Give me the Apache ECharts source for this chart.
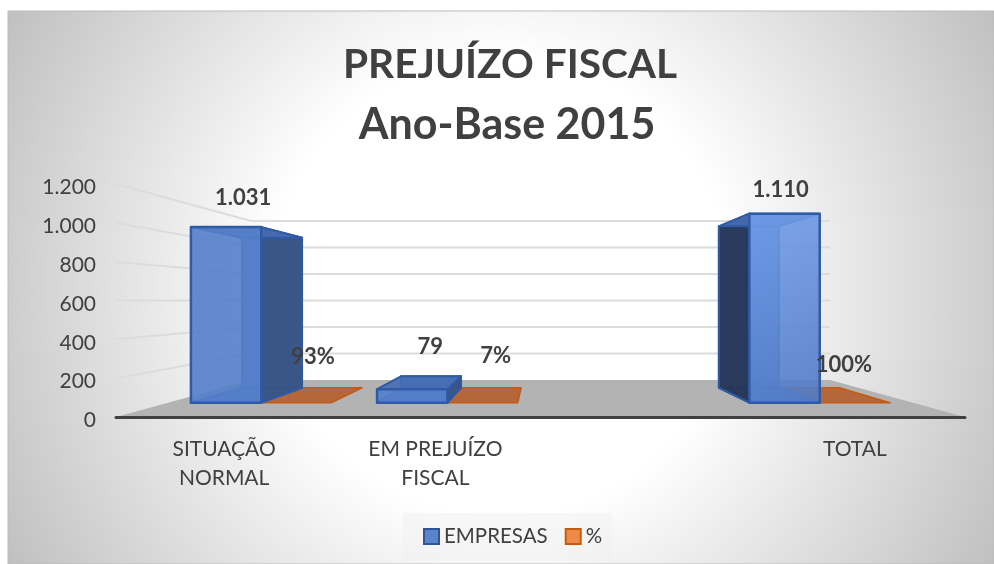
<!DOCTYPE html>
<html>
<head>
<meta charset="utf-8">
<style>html,body{margin:0;padding:0;background:#fff}#c{width:994px;height:564px}</style>
<script src="https://cdn.jsdelivr.net/npm/echarts@6/dist/echarts.min.js"></script>
</head>
<body>
<div id="c"></div>
<script>
const categories = ['SITUAÇÃO\nNORMAL', 'EM PREJUÍZO\nFISCAL', '', 'TOTAL'];
const empresas = [1031, 79, null, 1110];
const percentuais = [0.93, 0.07, null, 1];
const yTicks = [0, 200, 400, 600, 800, 1000, 1200];
const titleLines = ['PREJUÍZO FISCAL', 'Ano-Base 2015'];
const seriesNames = ['EMPRESAS', '%'];

// perspective constants (style only)
const FONT = 'Lato, Carlito, sans-serif';
const S_BACK = 0.682, S_BAR_FRONT = 0.877, S_BAR_BACK = 0.749, BAR_FRAC = 0.378;
const blueNudge = [[17, -29], [18, -42], null, [-4, -24]];
const orangeNudge = [[16.5, -46], [13, -47], null, [-11, -38]];

const fmtInt = v => String(v).replace(/\B(?=(\d{3})+$)/g, '.');
const fmtPct = v => Math.round(v * 100) + '%';

function vanishing(params, api) {
  const g = params.coordSys;
  return [g.x + g.width / 2, api.coord([0, 600])[1]];
}
const proj = (vp, x, y, s) => [vp[0] + (x - vp[0]) * s, vp[1] + (y - vp[1]) * s];

function renderWalls(params, api) {
  const g = params.coordSys, vp = vanishing(params, api);
  const v = api.value(0);
  const y = api.coord([0, v])[1];
  const L = g.x, R = g.x + g.width;
  const bl = proj(vp, L, y, S_BACK), br = proj(vp, R, y, S_BACK);
  const children = [];
  if (v === 0) {
    children.push({ type: 'polygon', shape: { points: [[L, y], [R, y], br, bl] }, style: { fill: '#b3b3b3' } });
  } else {
    children.push({ type: 'polyline', shape: { points: [[L, y], bl, br] }, style: { fill: 'none', stroke: '#dcdcdc', lineWidth: 2 } });
  }
  return { type: 'group', children };
}

function barGeom(params, api, side) {
  const idx = api.value(0), val = api.value(1);
  const vp = vanishing(params, api);
  const band = api.size([1, 0])[0];
  const c = api.coord([idx, val]), base = api.coord([idx, 0]);
  const w = band * BAR_FRAC;
  const x0 = side === 0 ? c[0] - w : c[0], x1 = x0 + w;
  const P = (x, y, s) => proj(vp, x, y, s);
  return {
    idx, val, vp, x0,
    fbl: P(x0, base[1], S_BAR_FRONT), fbr: P(x1, base[1], S_BAR_FRONT),
    ftl: P(x0, c[1], S_BAR_FRONT), ftr: P(x1, c[1], S_BAR_FRONT),
    bbl: P(x0, base[1], S_BAR_BACK), bbr: P(x1, base[1], S_BAR_BACK),
    btl: P(x0, c[1], S_BAR_BACK), btr: P(x1, c[1], S_BAR_BACK)
  };
}

function makeBar(side) {
  return function (params, api) {
    const g = barGeom(params, api, side);
    const poly = (points, fill, stroke, lw) => ({ type: 'polygon', shape: { points }, style: { fill, stroke, lineWidth: lw, lineJoin: 'round' } });
    const children = [];
    if (side === 0) {
      const rightOfVp = g.x0 > g.vp[0];
      const inner = '#3f6ab8', edge = '#2f5aa5';
      const frontFill = rightOfVp
        ? { type: 'linear', x: 0, y: 0, x2: 1, y2: 1, colorStops: [{ offset: 0, color: 'rgba(112,156,232,0.9)' }, { offset: 1, color: 'rgba(80,122,196,0.9)' }] }
        : 'rgba(84,126,202,0.9)';
      children.push(poly([g.bbl, g.bbr, g.btr, g.btl], 'rgba(84,124,198,0.92)', inner, 2));
      children.push(poly([g.fbl, g.fbr, g.bbr, g.bbl], 'rgba(80,120,195,0.9)', inner, 2));
      const wall = rightOfVp ? [g.fbl, g.bbl, g.btl, g.ftl] : [g.fbr, g.bbr, g.btr, g.ftr];
      children.push(poly(wall, rightOfVp ? 'rgba(35,50,80,0.9)' : 'rgba(55,82,130,0.92)', edge, 2));
      children.push(poly([g.ftl, g.ftr, g.btr, g.btl], 'rgba(70,108,180,0.9)', edge, 2));
      children.push(poly([g.fbl, g.fbr, g.ftr, g.ftl], frontFill, edge, 2.5));
    } else {
      children.push(poly([g.fbl, g.fbr, g.bbr, g.bbl], '#b5673a', '#c55a11', 1.5));
    }
    return { type: 'group', children };
  };
}

function makeLabel(side) {
  return function (params, api) {
    const g = barGeom(params, api, side);
    const nudge = (side === 0 ? blueNudge : orangeNudge)[g.idx];
    return {
      type: 'text',
      style: {
        text: side === 0 ? fmtInt(g.val) : fmtPct(g.val),
        x: (g.ftl[0] + g.ftr[0]) / 2 + nudge[0], y: g.ftl[1] + nudge[1],
        fill: '#404040', font: 'bold 22px ' + FONT, align: 'center', verticalAlign: 'middle'
      }
    };
  };
}

const toData = arr => arr.map((v, i) => [i, v]).filter(d => d[1] !== null);
const xLabelStyle = { fontFamily: FONT, fontSize: 21, color: '#404040', lineHeight: 29 };

const chart = echarts.init(document.getElementById('c'), null, { renderer: 'canvas' });
chart.setOption({
  animation: false,
  backgroundColor: '#ffffff',
  graphic: { elements: [{
    type: 'rect', z: -100, silent: true,
    shape: { x: 8, y: 11, width: 986, height: 553 },
    style: {
      fill: { type: 'radial', x: 501, y: 287, r: 570, global: true, colorStops: [
        { offset: 0, color: '#ffffff' }, { offset: 0.4, color: '#ffffff' }, { offset: 1, color: '#bfbfbf' }] },
      stroke: '#bbbbbb', lineWidth: 1
    }
  }] },
  title: {
    text: '{a|' + titleLines[0] + '}\n{b|' + titleLines[1] + '}', left: 505, top: 30, textAlign: 'center',
    textStyle: {
      rich: {
        a: { fontFamily: FONT, fontWeight: 'bold', fontSize: 40.6, color: '#404040', lineHeight: 60 },
        b: { fontFamily: FONT, fontWeight: 'bold', fontSize: 43, color: '#404040', lineHeight: 60, padding: [0, 6, 0, 0] }
      }
    }
  },
  legend: {
    left: 403, top: 513, orient: 'horizontal',
    padding: [13, 10, 13, 20], itemGap: 17, itemWidth: 15, itemHeight: 15,
    backgroundColor: 'rgba(240,240,240,0.45)',
    textStyle: { fontFamily: FONT, fontSize: 20.5, color: '#404040' },
    data: [
      { name: seriesNames[0], icon: 'rect', itemStyle: { color: '#5b84cc', borderColor: '#2f5597', borderWidth: 2 } },
      { name: seriesNames[1], icon: 'rect', itemStyle: { color: '#ed8b4a', borderColor: '#c55a11', borderWidth: 2 } }
    ]
  },
  grid: { left: 116, right: 29, top: 184, bottom: 147, containLabel: false },
  xAxis: {
    type: 'category', data: categories, z: 6,
    axisLine: { lineStyle: { color: '#404040', width: 3 } },
    axisTick: { show: false },
    axisLabel: {
      interval: 0, margin: 18, ...xLabelStyle,
      formatter: (v, i) => v ? v.split('\n').map(line => '{' + ['l', 'm', '', 't'][i] + '|' + line + '}').join('\n') : '',
      rich: {
        l: { ...xLabelStyle, padding: [0, 0, 0, 4] },
        m: { ...xLabelStyle, padding: [0, 0, 0, 2] },
        t: { ...xLabelStyle, padding: [0, 8, 0, 0] }
      }
    }
  },
  yAxis: {
    type: 'value', min: 0, max: 1200, interval: 200,
    axisLine: { show: false }, axisTick: { show: false }, splitLine: { show: false },
    axisLabel: {
      margin: 20,
      formatter: v => '{n|' + fmtInt(v) + '}',
      rich: { n: { fontFamily: FONT, fontSize: 21, color: '#404040', padding: [7, 0, 0, 0] } }
    }
  },
  series: [
    { type: 'custom', name: 'walls', z: 1, silent: true, coordinateSystem: 'cartesian2d',
      data: yTicks.map(v => [v]), encode: { y: 0 }, renderItem: renderWalls },
    { type: 'custom', name: seriesNames[1], z: 3, coordinateSystem: 'cartesian2d',
      itemStyle: { color: '#ed8b4a' }, data: toData(percentuais), encode: { x: 0, y: 1 }, renderItem: makeBar(1) },
    { type: 'custom', name: seriesNames[0], z: 4, coordinateSystem: 'cartesian2d',
      itemStyle: { color: '#5b84cc' }, data: toData(empresas), encode: { x: 0, y: 1 }, renderItem: makeBar(0) },
    { type: 'custom', name: 'rotulos-empresas', z: 8, silent: true, coordinateSystem: 'cartesian2d',
      data: toData(empresas), encode: { x: 0, y: 1 }, renderItem: makeLabel(0) },
    { type: 'custom', name: 'rotulos-percentuais', z: 8, silent: true, coordinateSystem: 'cartesian2d',
      data: toData(percentuais), encode: { x: 0, y: 1 }, renderItem: makeLabel(1) }
  ]
});
</script>
</body>
</html>
